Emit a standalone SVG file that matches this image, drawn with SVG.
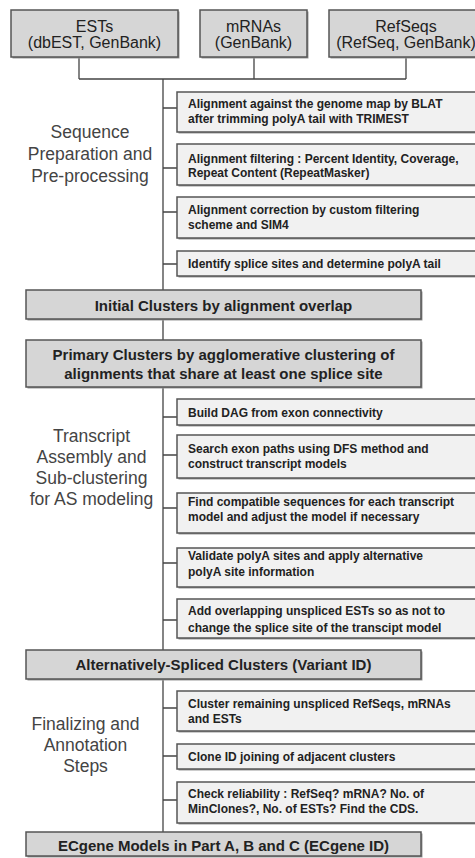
<svg xmlns="http://www.w3.org/2000/svg" width="475" height="858" viewBox="0 0 475 858">
<style>
.src{fill:#d6d6d6;stroke:#555;stroke-width:1.5}
.main{fill:#d6d6d6;stroke:#555;stroke-width:1.5}
.step{fill:#f1f1f1;stroke:#555;stroke-width:1.5}
.shadow{fill:#999}
.tsrc{font-family:"Liberation Sans",Arial,sans-serif;font-size:16px;fill:#222;text-anchor:middle}
.tmain{font-family:"Liberation Sans",Arial,sans-serif;font-size:15px;font-weight:bold;fill:#222;text-anchor:middle}
.tstep{font-family:"Liberation Sans",Arial,sans-serif;font-size:12px;font-weight:bold;fill:#222}
.tsec{font-family:"Liberation Sans",Arial,sans-serif;font-size:17.5px;fill:#444;text-anchor:middle}
.conn{stroke:#444;stroke-width:1.3;fill:none}
</style>

<g id="connectors">
<path class="conn" d="M79 57 V79 M254 57 V79 M406 57 V79 M79 79 H406 M163 79 V290"/>
<path class="conn" d="M163 108 H177 M163 168 H177 M163 212 H177 M163 264 H177"/>
<path class="conn" d="M163 319 V340 M163 387 V650"/>
<path class="conn" d="M163 417 H177 M163 455 H177 M163 508 H177 M163 563 H177 M163 620 H177"/>
<path class="conn" d="M163 679 V832"/>
<path class="conn" d="M163 708 H177 M163 756 H177 M163 800 H177"/>
</g>

<g id="src-ests">
<rect class="shadow" x="12.5" y="11.5" width="167" height="47"/>
<rect class="src" x="11" y="10" width="167" height="47"/>
<text class="tsrc" x="94.5" y="32">ESTs</text>
<text class="tsrc" x="94.5" y="48">(dbEST, GenBank)</text>
</g>
<g id="src-mrnas">
<rect class="shadow" x="201.5" y="11.5" width="107" height="47"/>
<rect class="src" x="200" y="10" width="107" height="47"/>
<text class="tsrc" x="253.5" y="32">mRNAs</text>
<text class="tsrc" x="253.5" y="48">(GenBank)</text>
</g>
<g id="src-refseqs">
<rect class="shadow" x="330.5" y="11.5" width="160" height="47"/>
<rect class="src" x="329" y="10" width="160" height="47"/>
<text class="tsrc" x="406" y="32">RefSeqs</text>
<text class="tsrc" x="406" y="48">(RefSeq, GenBank)</text>
</g>

<g id="label-prep">
<text class="tsec" x="90" y="138">Sequence</text>
<text class="tsec" x="90" y="160">Preparation and</text>
<text class="tsec" x="90" y="182">Pre-processing</text>
</g>

<g id="step-blat">
<rect class="shadow" x="178.5" y="93.5" width="310" height="40"/>
<rect class="step" x="177" y="92" width="310" height="40"/>
<text class="tstep" x="188" y="108">Alignment against the genome map by BLAT</text>
<text class="tstep" x="188" y="123">after trimming polyA tail with TRIMEST</text>
</g>
<g id="step-filter">
<rect class="shadow" x="178.5" y="145.5" width="310" height="41"/>
<rect class="step" x="177" y="144" width="310" height="41"/>
<text class="tstep" x="188" y="163">Alignment filtering : Percent Identity, Coverage,</text>
<text class="tstep" x="188" y="177">Repeat Content (RepeatMasker)</text>
</g>
<g id="step-correct">
<rect class="shadow" x="178.5" y="198.5" width="310" height="41"/>
<rect class="step" x="177" y="197" width="310" height="41"/>
<text class="tstep" x="188" y="214">Alignment correction by custom filtering</text>
<text class="tstep" x="188" y="229">scheme and SIM4</text>
</g>
<g id="step-splice">
<rect class="shadow" x="178.5" y="252.5" width="310" height="25"/>
<rect class="step" x="177" y="251" width="310" height="25"/>
<text class="tstep" x="188" y="268">Identify splice sites and determine polyA tail</text>
</g>

<g id="initial-clusters">
<rect class="shadow" x="27.5" y="291.5" width="395" height="29"/>
<rect class="main" x="26" y="290" width="395" height="29"/>
<text class="tmain" x="223.5" y="311">Initial Clusters by alignment overlap</text>
</g>

<g id="primary-clusters">
<rect class="shadow" x="27.5" y="341.5" width="395" height="47"/>
<rect class="main" x="26" y="340" width="395" height="47"/>
<text class="tmain" x="223.5" y="360">Primary Clusters by agglomerative clustering of</text>
<text class="tmain" x="223.5" y="379">alignments that share at least one splice site</text>
</g>

<g id="label-assembly">
<text class="tsec" x="91.5" y="442">Transcript</text>
<text class="tsec" x="91.5" y="463">Assembly and</text>
<text class="tsec" x="91.5" y="484">Sub-clustering</text>
<text class="tsec" x="91.5" y="505">for AS modeling</text>
</g>

<g id="step-dag">
<rect class="shadow" x="178.5" y="400.5" width="310" height="26"/>
<rect class="step" x="177" y="399" width="310" height="26"/>
<text class="tstep" x="188" y="417">Build DAG from exon connectivity</text>
</g>
<g id="step-dfs">
<rect class="shadow" x="178.5" y="436.5" width="310" height="43"/>
<rect class="step" x="177" y="435" width="310" height="43"/>
<text class="tstep" x="188" y="453">Search exon paths using DFS method and</text>
<text class="tstep" x="188" y="468">construct transcript models</text>
</g>
<g id="step-compat">
<rect class="shadow" x="178.5" y="494.5" width="310" height="40"/>
<rect class="step" x="177" y="493" width="310" height="40"/>
<text class="tstep" x="188" y="506">Find compatible sequences for each transcript</text>
<text class="tstep" x="188" y="521">model and adjust the model if necessary</text>
</g>
<g id="step-polya">
<rect class="shadow" x="178.5" y="549.5" width="310" height="39"/>
<rect class="step" x="177" y="548" width="310" height="39"/>
<text class="tstep" x="188" y="560">Validate polyA sites and apply alternative</text>
<text class="tstep" x="188" y="576">polyA site information</text>
</g>
<g id="step-unspliced">
<rect class="shadow" x="178.5" y="600.5" width="310" height="39"/>
<rect class="step" x="177" y="599" width="310" height="39"/>
<text class="tstep" x="188" y="615">Add overlapping unspliced ESTs so as not to</text>
<text class="tstep" x="188" y="632">change the splice site of the transcipt model</text>
</g>

<g id="as-clusters">
<rect class="shadow" x="27.5" y="651.5" width="395" height="29"/>
<rect class="main" x="26" y="650" width="395" height="29"/>
<text class="tmain" x="223.5" y="670">Alternatively-Spliced Clusters (Variant ID)</text>
</g>

<g id="label-final">
<text class="tsec" x="85.5" y="730">Finalizing and</text>
<text class="tsec" x="85.5" y="751">Annotation</text>
<text class="tsec" x="85.5" y="772">Steps</text>
</g>

<g id="step-remaining">
<rect class="shadow" x="178.5" y="692.5" width="310" height="40"/>
<rect class="step" x="177" y="691" width="310" height="40"/>
<text class="tstep" x="188" y="708">Cluster remaining unspliced RefSeqs, mRNAs</text>
<text class="tstep" x="188" y="723">and ESTs</text>
</g>
<g id="step-clone">
<rect class="shadow" x="178.5" y="745.5" width="310" height="25"/>
<rect class="step" x="177" y="744" width="310" height="25"/>
<text class="tstep" x="188" y="761">Clone ID joining of adjacent clusters</text>
</g>
<g id="step-reliability">
<rect class="shadow" x="178.5" y="783.5" width="310" height="41"/>
<rect class="step" x="177" y="782" width="310" height="41"/>
<text class="tstep" x="188" y="798">Check reliability : RefSeq? mRNA? No. of</text>
<text class="tstep" x="188" y="813">MinClones?, No. of ESTs? Find the CDS.</text>
</g>

<g id="ecgene-models">
<rect class="shadow" x="27.5" y="833.5" width="395" height="24"/>
<rect class="main" x="26" y="832" width="395" height="24"/>
<text class="tmain" x="223.5" y="851">ECgene Models in Part A, B and C (ECgene ID)</text>
</g>
</svg>
